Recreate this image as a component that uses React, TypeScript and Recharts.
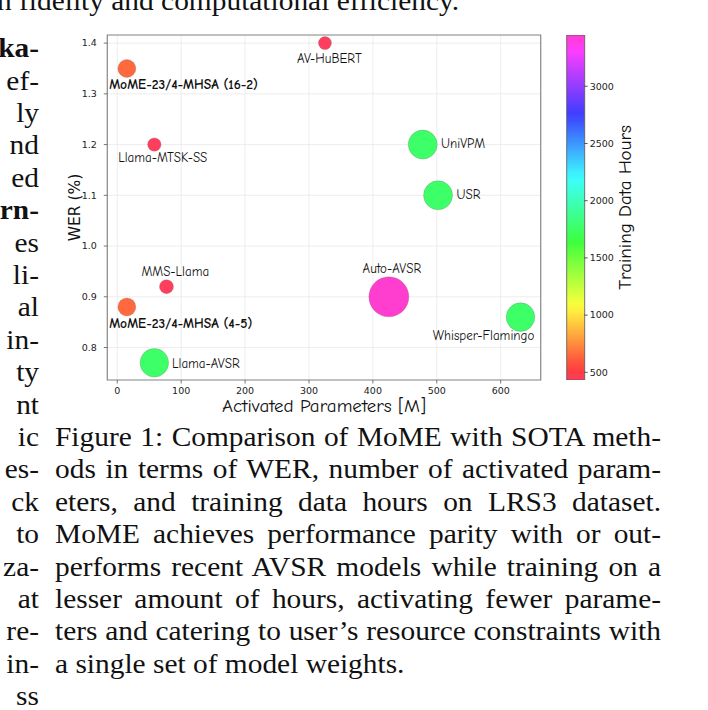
import React from 'react';
import {
  ScatterChart,
  Scatter,
  XAxis,
  YAxis,
  ZAxis,
  CartesianGrid,
  ReferenceArea,
  Cell,
  Label,
  BarChart,
  Bar,
} from 'recharts';

// ---------------- DATA ----------------
const modelNames = [
  'MoME-23/4-MHSA (16-2)',
  'AV-HuBERT',
  'Llama-MTSK-SS',
  'UniVPM',
  'USR',
  'MMS-Llama',
  'MoME-23/4-MHSA (4-5)',
  'Llama-AVSR',
  'Auto-AVSR',
  'Whisper-Flamingo',
];
const activatedParams = [15, 325, 58, 478, 502, 77, 15, 58, 425, 631];
const werPercent = [1.35, 1.4, 1.2, 1.2, 1.1, 0.92, 0.88, 0.77, 0.9, 0.86];
const trainingHours = [650, 433, 433, 1759, 1759, 433, 650, 1759, 3448, 1759];
const bubbleArea = [254, 133, 141, 660, 660, 154, 254, 642, 1257, 642];
const isOurs = [true, false, false, false, false, false, true, false, false, false];

const xTicks = [0, 100, 200, 300, 400, 500, 600];
const yTicks = [0.8, 0.9, 1.0, 1.1, 1.2, 1.3, 1.4];
const hourTicks = [500, 1000, 1500, 2000, 2500, 3000];
const hourRange = [433, 3448];

const topLine = 'n fidelity and computational efficiency.';
const leftFragments = [
  'ka-', 'ef-', 'ly', 'nd', 'ed', 'rn-', 'es', 'li-', 'al', 'in-', 'ty',
  'nt', 'ic', 'es-', 'ck', 'to', 'za-', 'at', 're-', 'in-', 'ss',
];
const boldFragments = [0, 5];
const captionLines = [
  'Figure 1: Comparison of MoME with SOTA meth-',
  'ods in terms of WER, number of activated param-',
  'eters, and training data hours on LRS3 dataset.',
  'MoME achieves performance parity with or out-',
  'performs recent AVSR models while training on a',
  'lesser amount of hours, activating fewer parame-',
  'ters and catering to user\u2019s resource constraints with',
  'a single set of model weights.',
];

const points = modelNames.map((name, i) => ({
  name,
  params: activatedParams[i],
  wer: werPercent[i],
  hours: trainingHours[i],
  bubble: bubbleArea[i],
  ours: isOurs[i],
}));
const colorbarData = [{ k: 'cb', range: hourRange }];

// ---------------- LAYOUT / STYLE ----------------
const X_DOMAIN: [number, number] = [-15.6, 662.6];
const Y_DOMAIN: [number, number] = [0.736, 1.416];
const LABEL_FONT = "'Comic Sans MS', 'Comic Neue', 'DejaVu Sans', sans-serif";
const TICK_FONT = "'DejaVu Sans', sans-serif";
const SERIF = "'Liberation Serif', 'Times New Roman', serif";
const SX = 1.05; // horizontal stretch of body text

const labelLayout: Record<string, { dx: number; dy: number; anchor: 'start' | 'middle' | 'end' }> = {
  'MoME-23/4-MHSA (16-2)': { dx: -17.7, dy: 20.3, anchor: 'start' },
  'AV-HuBERT': { dx: 4.5, dy: 19.7, anchor: 'middle' },
  'Llama-MTSK-SS': { dx: 8.4, dy: 17.3, anchor: 'middle' },
  UniVPM: { dx: 18.3, dy: 3.8, anchor: 'start' },
  USR: { dx: 18.4, dy: 3.2, anchor: 'start' },
  'MMS-Llama': { dx: 8.8, dy: -10.3, anchor: 'middle' },
  'MoME-23/4-MHSA (4-5)': { dx: -17.7, dy: 20.7, anchor: 'start' },
  'Llama-AVSR': { dx: 17.7, dy: 4.8, anchor: 'start' },
  'Auto-AVSR': { dx: 3, dy: -23.3, anchor: 'middle' },
  'Whisper-Flamingo': { dx: -37, dy: 22.7, anchor: 'middle' },
};

// gist_rainbow colormap, blended with alpha over white
const cmapStops: [number, [number, number, number]][] = [
  [0.0, [1.0, 0.0, 0.16]],
  [0.03, [1.0, 0.0, 0.0]],
  [0.215, [1.0, 1.0, 0.0]],
  [0.4, [0.0, 1.0, 0.0]],
  [0.586, [0.0, 1.0, 1.0]],
  [0.77, [0.0, 0.0, 1.0]],
  [0.954, [1.0, 0.0, 1.0]],
  [1.0, [1.0, 0.0, 0.75]],
];
const ALPHA = 0.76;
function cmap(f: number): string {
  const t = Math.max(0, Math.min(1, f));
  let c: [number, number, number] = cmapStops[cmapStops.length - 1][1];
  for (let i = 0; i < cmapStops.length - 1; i++) {
    const [a, ca] = cmapStops[i];
    const [b, cb] = cmapStops[i + 1];
    if (t >= a && t <= b) {
      const u = (t - a) / (b - a);
      c = [ca[0] + (cb[0] - ca[0]) * u, ca[1] + (cb[1] - ca[1]) * u, ca[2] + (cb[2] - ca[2]) * u];
      break;
    }
  }
  const v = c.map((x) => Math.round((ALPHA * x + (1 - ALPHA)) * 255));
  return `rgb(${v[0]},${v[1]},${v[2]})`;
}
const hourColor = (h: number) => cmap((h - hourRange[0]) / (hourRange[1] - hourRange[0]));

const gradientStops = Array.from({ length: 41 }, (_, i) => i / 40);

const renderBubble = (props: any) => {
  const { cx, cy, payload, fill } = props;
  if (cx == null || cy == null) return <g />;
  const r = props.width ? props.width / 2 : Math.sqrt((props.size ?? 64) / Math.PI);
  const lay = labelLayout[payload.name] || { dx: 0, dy: 0, anchor: 'middle' };
  return (
    <g>
      <circle cx={cx} cy={cy} r={r} fill={fill} stroke="rgba(110,110,110,0.45)" strokeWidth={0.6} />
      <text
        x={cx + lay.dx}
        y={cy + lay.dy}
        textAnchor={lay.anchor}
        fontFamily={LABEL_FONT}
        fontSize={payload.ours ? 13.6 : 13}
        fontWeight={payload.ours ? 'bold' : 'normal'}
        fill="#111"
      >
        {payload.name}
      </text>
    </g>
  );
};

const YLabel = (props: any) => {
  const vb = props.viewBox || { x: 0, y: 35, width: 107, height: 345 };
  const cx = vb.x + 75;
  const cy = vb.y + vb.height / 2;
  return (
    <text
      x={cx}
      y={cy}
      transform={`rotate(-90, ${cx}, ${cy})`}
      textAnchor="middle"
      dominantBaseline="central"
      fontFamily={TICK_FONT}
      fontSize={15.5}
      fill="#111"
    >
      WER (%)
    </text>
  );
};

const CbLabel = (props: any) => {
  const vb = props.viewBox || { x: 584.3, y: 35, width: 60, height: 345 };
  const cx = vb.x + 41;
  const cy = vb.y + vb.height / 2;
  return (
    <text
      x={cx}
      y={cy}
      transform={`rotate(-90, ${cx}, ${cy})`}
      textAnchor="middle"
      dominantBaseline="central"
      fontFamily={LABEL_FONT}
      fontSize={19}
      fill="#111"
    >
      Training Data Hours
    </text>
  );
};

const tickStyle = { fontFamily: TICK_FONT, fontSize: 9.5, fill: '#222' };

export default function App() {
  return (
    <div
      style={{
        position: 'absolute',
        left: 0,
        top: 0,
        width: 708,
        height: 710,
        overflow: 'hidden',
        background: '#fff',
      }}
    >
      {/* top clipped line */}
      <div
        style={{
          position: 'absolute',
          left: -3,
          top: -14.6,
          fontFamily: SERIF,
          fontSize: 28,
          lineHeight: '32.4px',
          whiteSpace: 'nowrap',
          color: '#111',
          transform: `scaleX(${SX})`,
          transformOrigin: 'left top',
        }}
      >
        {topLine}
      </div>

      {/* left column fragments */}
      <div
        style={{
          position: 'absolute',
          left: -39.5,
          top: 32.3,
          width: 78,
          textAlign: 'right',
          transform: `scaleX(${SX})`,
          transformOrigin: 'right top',
        }}
      >
        {leftFragments.map((f, i) => (
          <div
            key={i}
            style={{
              fontFamily: SERIF,
              fontSize: 28,
              lineHeight: '32.4px',
              height: 32.4,
              whiteSpace: 'nowrap',
              fontWeight: boldFragments.includes(i) ? 'bold' : 'normal',
              color: '#111',
            }}
          >
            {f}
          </div>
        ))}
      </div>

      {/* caption */}
      <div
        style={{
          position: 'absolute',
          left: 55,
          top: 421,
          width: 606 / SX,
          transform: `scaleX(${SX})`,
          transformOrigin: 'left top',
        }}
      >
        {captionLines.map((line, i) => (
          <div
            key={i}
            style={{
              fontFamily: SERIF,
              fontSize: 28,
              lineHeight: '32.4px',
              height: 32.4,
              whiteSpace: 'nowrap',
              textAlign: i === captionLines.length - 1 ? 'left' : 'justify',
              textAlignLast: i === captionLines.length - 1 ? 'left' : 'justify',
              color: '#111',
            }}
          >
            {line}
          </div>
        ))}
      </div>

      {/* main bubble chart */}
      <div style={{ position: 'absolute', left: 0, top: 0 }}>
        <ScatterChart width={560} height={420} margin={{ top: 35, right: 19.3, bottom: 0, left: 0.3 }}>
          <CartesianGrid stroke="#e9e9e9" strokeWidth={0.8} />
          <XAxis
            type="number"
            dataKey="params"
            domain={X_DOMAIN}
            ticks={xTicks}
            allowDataOverflow
            height={40}
            axisLine={false}
            tickLine={{ stroke: '#555', strokeWidth: 0.8 }}
            tickSize={3.5}
            tickMargin={4}
            tick={tickStyle}
          >
            <Label
              value="Activated Parameters [M]"
              position="insideBottom"
              offset={8}
              style={{ fontFamily: LABEL_FONT, fontSize: 19, fill: '#111' }}
            />
          </XAxis>
          <YAxis
            type="number"
            dataKey="wer"
            domain={Y_DOMAIN}
            ticks={yTicks}
            allowDataOverflow
            width={107}
            axisLine={false}
            tickLine={{ stroke: '#555', strokeWidth: 0.8 }}
            tickSize={3.5}
            tickMargin={7}
            tick={tickStyle}
            tickFormatter={(v: number) => v.toFixed(1)}
          >
            <Label content={<YLabel />} />
          </YAxis>
          <ZAxis type="number" dataKey="bubble" domain={[0, 1300]} range={[0, 1300]} />
          <ReferenceArea
            x1={X_DOMAIN[0]}
            x2={X_DOMAIN[1]}
            y1={Y_DOMAIN[0]}
            y2={Y_DOMAIN[1]}
            fill="none"
            fillOpacity={0}
            stroke="#8a8a8a"
            strokeWidth={1.2}
          />
          <Scatter data={points} shape={renderBubble} isAnimationActive={false}>
            {points.map((p, i) => (
              <Cell key={i} fill={hourColor(p.hours)} />
            ))}
          </Scatter>
        </ScatterChart>
      </div>

      {/* colorbar */}
      <div style={{ position: 'absolute', left: 0, top: 0 }}>
        <BarChart
          width={708}
          height={420}
          data={colorbarData}
          margin={{ top: 35, right: 63.7, bottom: 40, left: 566.7 }}
          barCategoryGap={0}
          barGap={0}
        >
          <defs>
            <linearGradient id="cbGrad" x1="0" y1="1" x2="0" y2="0">
              {gradientStops.map((s, i) => (
                <stop key={i} offset={`${s * 100}%`} stopColor={cmap(s)} />
              ))}
            </linearGradient>
          </defs>
          <XAxis dataKey="k" hide padding={{ left: 0, right: 0 }} />
          <YAxis
            orientation="right"
            type="number"
            domain={hourRange}
            ticks={hourTicks}
            allowDataOverflow
            width={60}
            axisLine={false}
            tickLine={{ stroke: '#333', strokeWidth: 0.8 }}
            tickSize={3.4}
            tickMargin={2}
            tick={tickStyle}
          >
            <Label content={<CbLabel />} />
          </YAxis>
          <Bar dataKey="range" fill="url(#cbGrad)" stroke="#555" strokeWidth={0.8} isAnimationActive={false} />
        </BarChart>
      </div>
    </div>
  );
}
